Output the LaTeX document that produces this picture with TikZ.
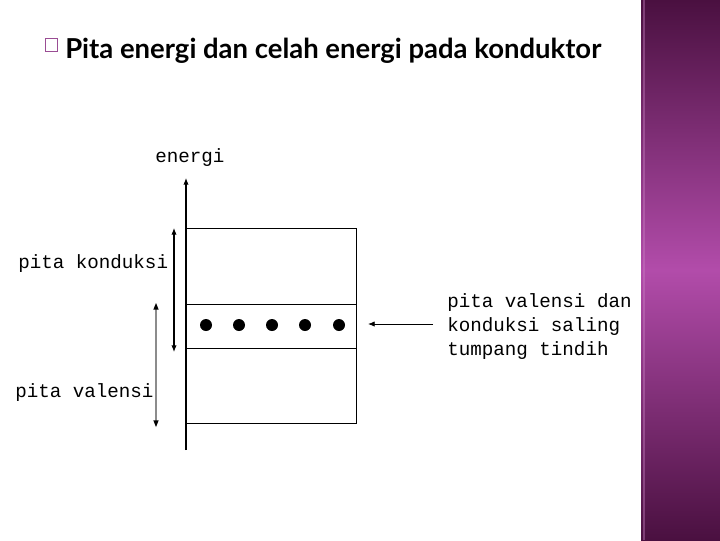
\documentclass[tikz,border=0pt]{standalone}
\usepackage{fontspec}
\setmainfont{Lato}
\newfontfamily\monof{Liberation Mono}
\usetikzlibrary{arrows.meta}
\definecolor{sidetop}{HTML}{4A1040}
\definecolor{sidemid}{HTML}{B24CAA}
\definecolor{bulletc}{HTML}{9A4D94}
\tikzset{
  mono/.style={font=\monof\fontsize{14.4pt}{16pt}\selectfont, inner sep=0pt, anchor=base west},
  axis/.style={line width=0.8pt, -{Latex[length=5pt,width=4pt]}},
  dbl/.style={line width=0.8pt, {Latex[length=5pt,width=4pt]}-{Latex[length=5pt,width=4pt]}},
  band/.style={draw, line width=0.8pt},
  elec/.style={circle, fill=black, inner sep=0pt, minimum size=9pt}
}
\begin{document}
\begin{tikzpicture}[x=0.75pt,y=-0.75pt]
\useasboundingbox (0,0) rectangle (720,540);
\fill[white] (0,0) rectangle (720,540);
% sidebar
\shade[top color=sidetop, bottom color=sidetop, middle color=sidemid] (641,0) rectangle (720,540);
\draw[sidemid!70!white, opacity=0.4, line width=0.8pt] (644,0) -- (644,540);
% title
\draw[bulletc, line width=0.6pt] (45.5,38.5) rectangle (57.5,51.5);
\node[font=\bfseries\fontsize{20.6pt}{23pt}\selectfont, inner sep=0pt, anchor=base west] (title) at (65,58) {Pita energi dan celah energi pada konduktor};
% axis
\coordinate (axb) at (186,450);
\coordinate (axt) at (186,178);
\draw[axis] (axb) -- (axt);
\node[mono] (en) at (155,162) {energi};
% bands
\node[band, minimum width=127.5pt, minimum height=57pt, inner sep=0pt, anchor=north west] (cb) at (186,228) {};
\node[band, minimum width=127.5pt, minimum height=33pt, inner sep=0pt, anchor=north west] (ov) at (186,304) {};
\node[band, minimum width=127.5pt, minimum height=56.25pt, inner sep=0pt, anchor=north west] (vb) at (186,348) {};
% electrons
\foreach \i/\x in {1/206,2/239,3/272,4/305,5/339}{
  \node[elec] (e\i) at (\x,325) {};
}
% bracket arrows
\coordinate (kt) at (174,228);
\coordinate (kb) at (174,352);
\draw[dbl] (kb) -- (kt);
\coordinate (vt) at (156,303);
\coordinate (vbm) at (156,427);
\draw[black!45, line width=0.8pt] (156,309) -- (156,421);
\path[fill=black] (vt) -- ++(-2.7,6.7) -- ++(5.4,0) -- cycle;
\path[fill=black] (vbm) -- ++(-2.7,-6.7) -- ++(5.4,0) -- cycle;
\node[mono] (pk) at (18,268) {pita konduksi};
\node[mono] (pv) at (15,397) {pita valensi};
% pointer
\coordinate (ps) at (433,324);
\coordinate (pe) at (368,324);
\draw[axis, line width=0.6pt] (ps) -- (pe);
\node[mono] (t1) at (447,307) {pita valensi dan};
\node[mono] (t2) at (447,331) {konduksi saling};
\node[mono] (t3) at (447,355) {tumpang tindih};
\end{tikzpicture}
\end{document}
